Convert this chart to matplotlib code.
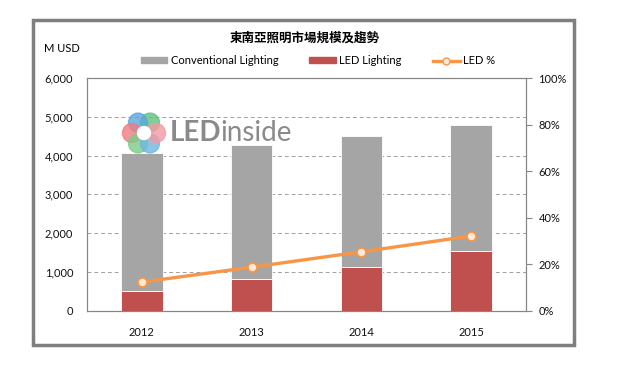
import numpy as np
import matplotlib
matplotlib.use("Agg")
import matplotlib.pyplot as plt
from matplotlib.patches import Patch, Rectangle, Ellipse
from matplotlib.lines import Line2D
from matplotlib.ticker import FuncFormatter

plt.rcParams['font.family'] = ['Lato', 'Noto Sans CJK TC', 'DejaVu Sans']

# Data
years = ['2012', '2013', '2014', '2015']
led = [500, 810, 1135, 1540]
conventional = [3560, 3455, 3360, 3255]
led_pct = [12.3, 18.7, 25.3, 32.1]

title = '東南亞照明市場規模及趨勢'
gray = '#A5A5A5'
red = '#C0504D'
orange = '#F79646'
axis_col = '#868686'

fig = plt.figure(figsize=(6.42, 3.65), dpi=100)
ax = fig.add_axes([0.1355, 0.1488, 0.8193 - 0.1355, 0.7863 - 0.1488])

x = np.arange(len(years))
ax.bar(x, led, width=0.38, color=red, edgecolor='white', linewidth=0.6, zorder=3)
ax.bar(x, conventional, width=0.38, bottom=led, color=gray, edgecolor='white',
       linewidth=0.6, zorder=3)

ax.set_xlim(-0.5, len(years) - 0.5)
ax.set_ylim(0, 6000)
ax.set_yticks(range(0, 6001, 1000))
ax.yaxis.set_major_formatter(FuncFormatter(lambda v, p: f'{int(v):,}'))
ax.set_xticks(x)
ax.set_xticklabels(years)
ax.tick_params(axis='both', length=0, labelsize=8, colors='#111111', pad=12)
ax.tick_params(axis='y', pad=10)
ax.yaxis.grid(True, linestyle=(0, (4, 3)), color='#A0A0A0', linewidth=0.7, zorder=0)
ax.set_axisbelow(True)
for s in ax.spines.values():
    s.set_color(axis_col)
    s.set_linewidth(0.8)

ax2 = ax.twinx()
ax2.plot(x, led_pct, color=orange, linewidth=2.4, marker='o', markersize=6.5,
         markerfacecolor='#FDE9D9', markeredgecolor=orange, markeredgewidth=1.2,
         zorder=5)
ax2.set_ylim(0, 100)
ax2.set_yticks(range(0, 101, 20))
ax2.yaxis.set_major_formatter(FuncFormatter(lambda v, p: f'{int(v)}%'))
ax2.tick_params(axis='y', length=4, color=axis_col, labelsize=8,
                labelcolor='#111111', pad=5)
for s in ax2.spines.values():
    s.set_color(axis_col)
    s.set_linewidth(0.8)

# watermark logo
petals = ['#63C27F', '#5BA7DD', '#F07C80', '#7DCB8B', '#6FB6E0', '#F29AA6']
for i, c in enumerate(petals):
    ang = np.deg2rad(60 + i * 60)
    cx, cy = 144 + 12 * np.cos(ang), 133 - 12 * np.sin(ang)
    fig.patches.append(Ellipse((cx / 642, 1 - cy / 365), 19 / 642, 19 / 365,
                               transform=fig.transFigure, color=c, alpha=0.8,
                               zorder=6))
fig.patches.append(Ellipse((144 / 642, 1 - 133 / 365), 13 / 642, 13 / 365,
                           transform=fig.transFigure, color='white', zorder=7))
t_led = fig.text(170 / 642, 1 - 133 / 365, 'LED', fontsize=20, fontweight='bold',
                 color='#8A8A8A', va='center', ha='left', zorder=8)
fig.add_artist(plt.Annotation('inside', xy=(1, 0.5), xycoords=t_led,
                              xytext=(-1, 0), textcoords='offset points',
                              fontsize=20, color='#8A8A8A', va='center',
                              ha='left', zorder=8))

# title, unit label and legend
fig.text(0.474, 1 - 38 / 365, title, fontsize=9, fontweight='bold',
         family=['Noto Sans CJK TC'], ha='center', va='center')
fig.text(44 / 642, 1 - 49 / 365, 'M USD', fontsize=8, ha='left', va='center')

handles = [Patch(color=gray), Patch(color=red),
           Line2D([], [], color=orange, linewidth=2.4, marker='o', markersize=5,
                  markerfacecolor='#FDE9D9', markeredgecolor=orange)]
labels = ['Conventional Lighting', 'LED Lighting', 'LED %']
fig.legend(handles, labels, loc='center', bbox_to_anchor=(0.495, 1 - 60.7 / 365),
           ncol=3, frameon=False, fontsize=8, handlelength=2.4, handleheight=0.5,
           handletextpad=0.3, columnspacing=2.8)

# outer frame
fig.patches.append(Rectangle((33 / 642, 1 - 345 / 365), (574 - 33) / 642,
                             (345 - 20) / 365, transform=fig.transFigure,
                             fill=False, edgecolor='#7F7F7F', linewidth=2.5))

fig.savefig('out.png', dpi=100)
